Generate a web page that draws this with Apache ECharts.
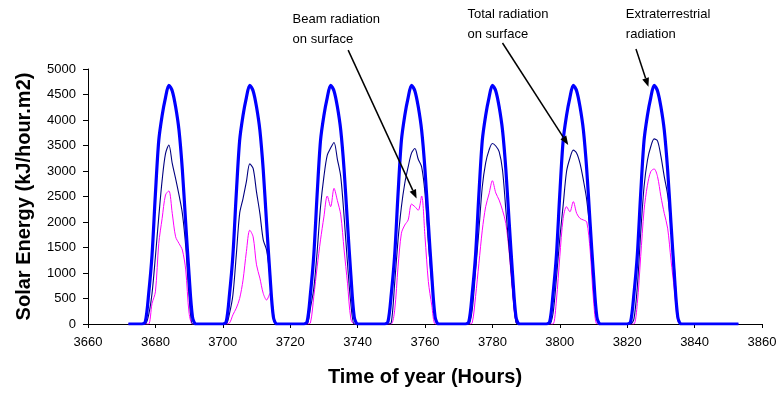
<!DOCTYPE html>
<html>
<head>
<meta charset="utf-8">
<script src="https://cdn.jsdelivr.net/npm/echarts@6/dist/echarts.min.js"></script>
<style>
  html, body { margin: 0; padding: 0; background: #fff; }
  #chart { width: 781px; height: 393px; }
</style>
</head>
<body>
<div id="chart"></div>
<script>
// hourly values, first hour 3672, one row per day (rows start at 3677, 3701, ...)
var firstHour = 3672;

var extraterrestrial = [
  0, 0, 0, 0, 0,
  40, 590, 1350, 2550, 3600, 4090, 4440, 4680, 4570, 4260, 3800, 3020, 1970, 960, 140, 0, 0, 0, 0, 0, 0, 0, 0, 0,
  40, 590, 1350, 2550, 3600, 4090, 4440, 4680, 4570, 4260, 3800, 3020, 1970, 960, 140, 0, 0, 0, 0, 0, 0, 0, 0, 0,
  40, 590, 1350, 2550, 3600, 4090, 4440, 4680, 4570, 4260, 3800, 3020, 1970, 960, 140, 0, 0, 0, 0, 0, 0, 0, 0, 0,
  40, 590, 1350, 2550, 3600, 4090, 4440, 4680, 4570, 4260, 3800, 3020, 1970, 960, 140, 0, 0, 0, 0, 0, 0, 0, 0, 0,
  40, 590, 1350, 2550, 3600, 4090, 4440, 4680, 4570, 4260, 3800, 3020, 1970, 960, 140, 0, 0, 0, 0, 0, 0, 0, 0, 0,
  40, 590, 1350, 2550, 3600, 4090, 4440, 4680, 4570, 4260, 3800, 3020, 1970, 960, 140, 0, 0, 0, 0, 0, 0, 0, 0, 0,
  40, 590, 1350, 2550, 3600, 4090, 4440, 4680, 4570, 4260, 3800, 3020, 1970, 960, 140, 0, 0, 0, 0, 0, 0, 0, 0, 0,
  0, 0, 0, 0, 0, 0, 0, 0, 0
];

var total = [
  0, 0, 0, 0, 0,
  0, 180, 600, 1320, 2100, 2820, 3340, 3510, 3150, 2850, 2530, 2170, 1520, 540, 0, 0, 0, 0, 0, 0, 0, 0, 0, 0,
  0, 210, 570, 1350, 2170, 2460, 2790, 3140, 3050, 2590, 2170, 1650, 1450, 930, 210, 0, 0, 0, 0, 0, 0, 0, 0, 0,
  0, 310, 700, 1420, 2300, 2890, 3310, 3450, 3560, 3230, 2890, 2100, 1190, 400, 0, 0, 0, 0, 0, 0, 0, 0, 0, 0,
  0, 30, 800, 1650, 2300, 2760, 3080, 3350, 3440, 3230, 3080, 2560, 1580, 800, 130, 0, 0, 0, 0, 0, 0, 0, 0, 0,
  0, 270, 1030, 1840, 2690, 3160, 3410, 3540, 3490, 3380, 3020, 2230, 1450, 670, 30, 0, 0, 0, 0, 0, 0, 0, 0, 0,
  0, 210, 900, 1680, 2330, 2990, 3250, 3410, 3350, 3150, 2820, 2430, 1780, 930, 130, 0, 0, 0, 0, 0, 0, 0, 0, 0,
  0, 100, 730, 1780, 2690, 3210, 3480, 3630, 3590, 3290, 2890, 2530, 1880, 1120, 130, 0, 0, 0, 0, 0, 0, 0, 0, 0,
  0, 0, 0, 0, 0, 0, 0, 0, 0
];

var beam = [
  0, 0, 0, 0, 0,
  0, 0, 400, 630, 1580, 2070, 2530, 2610, 2170, 1710, 1580, 1450, 1060, 210, 0, 0, 0, 0, 0, 0, 0, 0, 0, 0,
  0, 20, 180, 310, 500, 860, 1420, 1840, 1710, 1160, 900, 600, 470, 600, 100, 0, 0, 0, 0, 0, 0, 0, 0, 0,
  0, 20, 540, 1120, 1650, 2100, 2510, 2300, 2660, 2420, 2140, 1450, 800, 100, 0, 0, 0, 0, 0, 0, 0, 0, 0, 0,
  0, 0, 270, 1120, 1780, 1940, 2040, 2350, 2300, 2230, 2510, 1710, 830, 370, 0, 0, 0, 0, 0, 0, 0, 0, 0, 0,
  0, 20, 540, 1190, 1840, 2300, 2550, 2810, 2570, 2430, 2230, 1970, 1390, 600, 30, 0, 0, 0, 0, 0, 0, 0, 0, 0,
  0, 0, 470, 1320, 2070, 2300, 2200, 2400, 2170, 2070, 2040, 2000, 1450, 470, 0, 0, 0, 0, 0, 0, 0, 0, 0, 0,
  0, 0, 400, 1320, 2230, 2720, 2990, 3040, 2890, 2500, 2170, 1880, 1250, 670, 60, 0, 0, 0, 0, 0, 0, 0, 0, 0,
  0, 0, 0, 0, 0, 0, 0, 0, 0
];

// annotations, in chart units [hour, kJ/hour.m2]
var notes = [
  { lines: ['Beam radiation', 'on surface'], at: [3720.7, 6170], from: [3737.2, 5370], to: [3757.5, 2460] },
  { lines: ['Total radiation', 'on surface'], at: [3772.6, 6270], from: [3783.0, 5510], to: [3802.5, 3510] },
  { lines: ['Extraterrestrial', 'radiation'], at: [3819.6, 6270], from: [3822.6, 5390], to: [3826.3, 4650] }
];

var font = 'Liberation Sans, Arial, sans-serif';

function pairs(values) {
  return values.map(function (v, i) { return [firstHour + i, v]; });
}

function plain(v) {
  return String(v);
}

var chart = echarts.init(document.getElementById('chart'));

chart.setOption({
  animation: false,
  grid: { left: 88, right: 19, top: 69, bottom: 69 },
  xAxis: {
    type: 'value',
    min: 3660,
    max: 3860,
    interval: 20,
    name: 'Time of year (Hours)',
    nameLocation: 'middle',
    nameGap: 43,
    nameTextStyle: { fontFamily: font, fontSize: 20, fontWeight: 'bold', color: '#000' },
    axisLine: { show: true, lineStyle: { color: '#000', width: 1 } },
    axisTick: { show: true, length: 4, lineStyle: { color: '#000' } },
    axisLabel: { fontFamily: font, fontSize: 13, color: '#000', margin: 12, formatter: plain },
    splitLine: { show: false }
  },
  yAxis: {
    type: 'value',
    min: 0,
    max: 5000,
    interval: 500,
    name: 'Solar Energy (kJ/hour.m2)',
    nameLocation: 'middle',
    nameGap: 54,
    nameTextStyle: { fontFamily: font, fontSize: 20, fontWeight: 'bold', color: '#000' },
    axisLine: { show: true, lineStyle: { color: '#000', width: 1 } },
    axisTick: { show: true, length: 5, lineStyle: { color: '#000' } },
    axisLabel: { fontFamily: font, fontSize: 13, color: '#000', margin: 12, formatter: plain },
    splitLine: { show: false }
  },
  series: [
    {
      name: 'Beam radiation on surface',
      type: 'line',
      data: pairs(beam),
      symbol: 'none',
      smooth: 0.3,
      lineStyle: { color: '#ff00ff', width: 1 },
      z: 2
    },
    {
      name: 'Total radiation on surface',
      type: 'line',
      data: pairs(total),
      symbol: 'none',
      smooth: 0.3,
      lineStyle: { color: '#000080', width: 1.1 },
      z: 3
    },
    {
      name: 'Extraterrestrial radiation',
      type: 'line',
      data: pairs(extraterrestrial),
      symbol: 'none',
      smooth: 0.3,
      lineStyle: { color: '#0000ff', width: 3.2 },
      z: 4
    }
  ]
});

// text + arrows placed from chart units
var graphics = [];
notes.forEach(function (n) {
  var t = chart.convertToPixel({ gridIndex: 0 }, n.at);
  var a = chart.convertToPixel({ gridIndex: 0 }, n.from);
  var b = chart.convertToPixel({ gridIndex: 0 }, n.to);
  graphics.push({
    type: 'text',
    left: t[0],
    top: t[1],
    style: { text: n.lines.join('\n'), font: '13px ' + font, fill: '#000', lineHeight: 20 }
  });
  var dx = b[0] - a[0], dy = b[1] - a[1];
  var len = Math.sqrt(dx * dx + dy * dy);
  var ux = dx / len, uy = dy / len;
  var hl = 9, hw = 3.5;
  var bx = b[0] - ux * hl, by = b[1] - uy * hl;
  graphics.push({
    type: 'line',
    shape: { x1: a[0], y1: a[1], x2: bx, y2: by },
    style: { stroke: '#000', lineWidth: 1.5 },
    z: 10
  });
  graphics.push({
    type: 'polygon',
    shape: { points: [[b[0], b[1]], [bx - uy * hw, by + ux * hw], [bx + uy * hw, by - ux * hw]] },
    style: { fill: '#000' },
    z: 10
  });
});
chart.setOption({ graphic: graphics });
</script>
</body>
</html>
